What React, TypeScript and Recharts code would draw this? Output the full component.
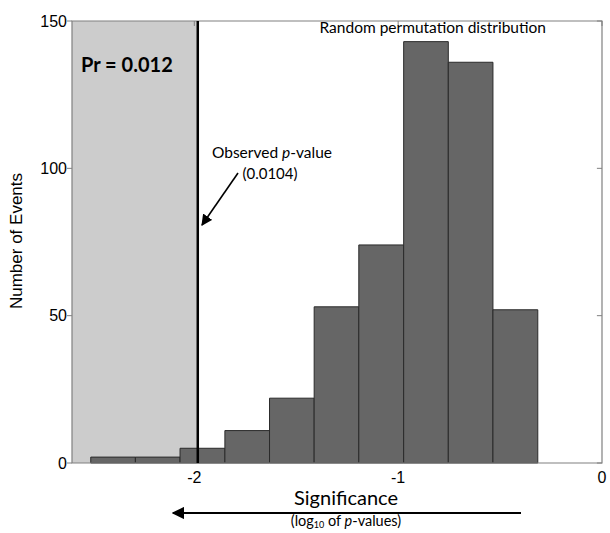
import React from "react";
import {
  ComposedChart,
  XAxis,
  YAxis,
  ReferenceArea,
  ReferenceLine,
} from "recharts";

// histogram of log10(p) from the random permutations
const binEdges = [-2.508, -2.289, -2.07, -1.85, -1.631, -1.412, -1.193, -0.973, -0.754, -0.535, -0.315];
const eventCounts = [2, 2, 5, 11, 22, 53, 74, 143, 136, 52];
const xTicks = [-2, -1, 0];
const yTicks = [0, 50, 100, 150];
const xDomain: [number, number] = [-2.6, 0];
const yDomain: [number, number] = [0, 150];
const observedP = 0.0104;
const permutationPr = 0.012;

const W = 610;
const H = 533;
const annoFont = "Lato, 'Open Sans', sans-serif";
const axisFont = "'Liberation Sans', Arial, sans-serif";

const data = eventCounts.map((count, i) => ({
  mid: (binEdges[i] + binEdges[i + 1]) / 2,
  count,
}));

const observedLog = Math.log10(observedP);

function App() {
  return (
    <div style={{ position: "absolute", left: 0, top: 0, width: W, height: H, background: "#fff" }}>
      <ComposedChart
        width={W}
        height={H}
        data={data}
        margin={{ top: 21, right: 8, bottom: 0, left: 0 }}
      >
        <XAxis
          dataKey="mid"
          type="number"
          domain={xDomain}
          ticks={xTicks}
          allowDataOverflow
          height={70}
          axisLine={false}
          tickLine={false}
          tickSize={0}
          tickMargin={9}
          tick={{ fill: "#000", fontSize: 16, fontFamily: axisFont }}
        />
        <YAxis
          type="number"
          domain={yDomain}
          ticks={yTicks}
          allowDataOverflow
          width={72}
          axisLine={false}
          tickLine={{ stroke: "#808080" }}
          tickSize={5}
          tickMargin={0}
          tick={{ fill: "#000", fontSize: 16, fontFamily: axisFont }}
        />

        {/* shaded tail left of the observed value */}
        <ReferenceArea
          x1={xDomain[0]}
          x2={observedLog}
          y1={yDomain[0]}
          y2={yDomain[1]}
          fill="#cccccc"
          fillOpacity={1}
          stroke="none"
        />

        {eventCounts.map((count, i) => (
          <ReferenceArea
            key={i}
            x1={binEdges[i]}
            x2={binEdges[i + 1]}
            y1={0}
            y2={count}
            fill="#666666"
            fillOpacity={1}
            stroke="#2a2a2a"
            strokeWidth={1}
          />
        ))}

        <ReferenceLine x={observedLog} stroke="#000" strokeWidth={2.5} />

        {/* inner tick marks on the right and top edges */}
        {yTicks.map((t) => (
          <ReferenceLine
            key={"r" + t}
            segment={[
              { x: xDomain[1] - 0.025, y: t },
              { x: xDomain[1], y: t },
            ]}
            stroke="#808080"
          />
        ))}
        {xTicks.map((t) => (
          <ReferenceLine
            key={"t" + t}
            segment={[
              { x: t, y: yDomain[1] - 1.7 },
              { x: t, y: yDomain[1] },
            ]}
            stroke="#808080"
          />
        ))}

        {/* plot box */}
        <ReferenceArea
          x1={xDomain[0]}
          x2={xDomain[1]}
          y1={yDomain[0]}
          y2={yDomain[1]}
          fill="none"
          stroke="#808080"
          strokeWidth={1.2}
        />
      </ComposedChart>

      <svg
        width={W}
        height={H}
        style={{ position: "absolute", left: 0, top: 0, pointerEvents: "none" }}
      >
        <defs>
          <marker id="head" viewBox="0 0 10 10" refX="9" refY="5" markerWidth="7" markerHeight="7" orient="auto-start-reverse">
            <path d="M0,0 L10,5 L0,10 z" fill="#000" />
          </marker>
        </defs>

        <text
          x={18}
          y={241}
          transform="rotate(-90 18 241)"
          textAnchor="middle"
          dominantBaseline="middle"
          fontFamily={axisFont}
          fontSize={17}
        >
          Number of Events
        </text>

        <text x={81} y={72} fontFamily={annoFont} fontWeight="bold" fontSize={20}>
          Pr = {permutationPr}
        </text>

        <text x={546} y={33} textAnchor="end" fontFamily={annoFont} fontSize={15.5}>
          Random permutation distribution
        </text>

        <text x={272} y={158} textAnchor="middle" fontFamily={annoFont} fontSize={15.5}>
          Observed <tspan fontStyle="italic">p</tspan>-value
        </text>
        <text x={270} y={179} textAnchor="middle" fontFamily={annoFont} fontSize={15}>
          ({observedP})
        </text>
        <line x1={238} y1={173} x2={202} y2={225} stroke="#000" strokeWidth={1.6} markerEnd="url(#head)" />

        <text x={346} y={505} textAnchor="middle" fontFamily={annoFont} fontSize={20}>
          Significance
        </text>
        <line x1={521} y1={513} x2={173} y2={513} stroke="#000" strokeWidth={1.8} markerEnd="url(#head)" />
        <text x={346} y={526} textAnchor="middle" fontFamily={annoFont} fontSize={14.5}>
          (log
          <tspan fontSize={9} dy={2}>10</tspan>
          <tspan dy={-2}> of </tspan>
          <tspan fontStyle="italic">p</tspan>-values)
        </text>
      </svg>
    </div>
  );
}

export default App;
